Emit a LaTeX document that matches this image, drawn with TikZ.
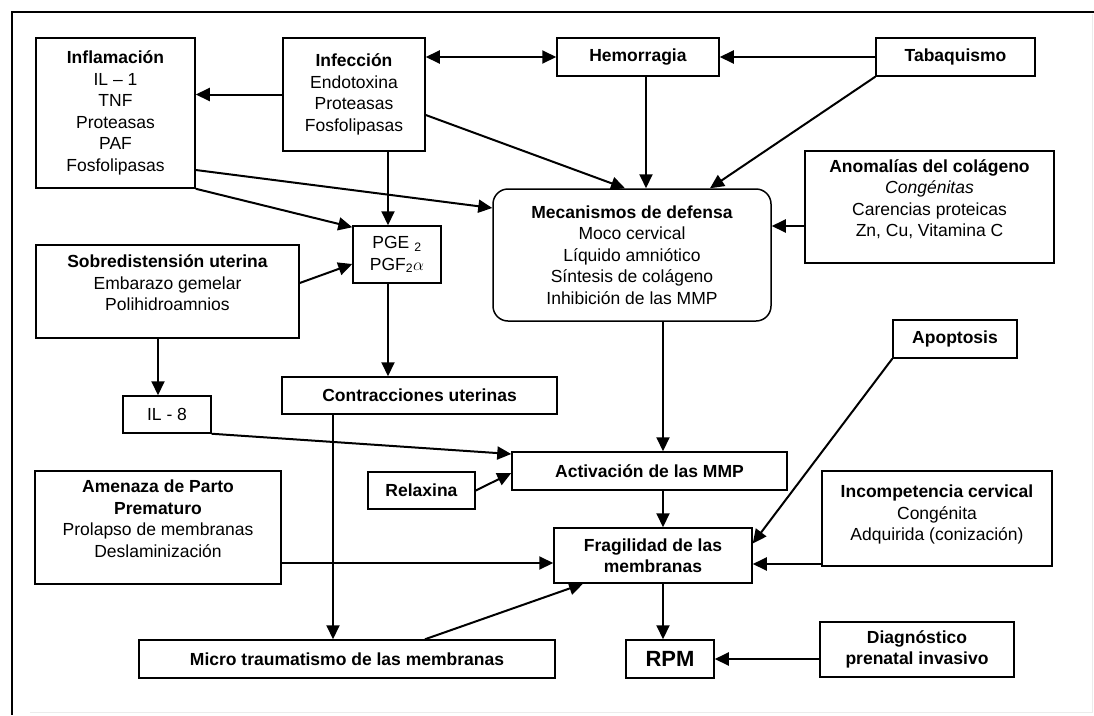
\documentclass[tikz,border=0pt]{standalone}
\usepackage{fontspec}
\setmainfont{Liberation Sans}
\usetikzlibrary{arrows.meta,calc}
\begin{document}
\begin{tikzpicture}[x=1pt,y=-1pt,
  box/.style={draw, line width=1.5pt, inner sep=0pt, align=center, font=\fontsize{17.5}{21.5}\selectfont},
  arr/.style={line width=2pt, -{Triangle[length=14pt,width=13pt]}},
  darr/.style={line width=2pt, {Triangle[length=14pt,width=13pt]}-{Triangle[length=14pt,width=13pt]}},
  frame/.style={line width=2.2pt}]
\useasboundingbox (0,0) rectangle (1094,715);
% frame
\draw[frame] (1094,12) -- (12,12) -- (12,715);
\draw[black!8, line width=1pt] (30,712) -- (1092,712) -- (1092,14);

% nodes
\node[box, minimum width=159pt, minimum height=150pt] (infl) at (115.5,113)
  {\textbf{Inflamación}\\IL -- 1\\TNF\\Proteasas\\PAF\\Fosfolipasas};
\node[box, minimum width=142pt, minimum height=113pt] (infe) at (354,94.5)
  {\textbf{Infección}\\Endotoxina\\Proteasas\\Fosfolipasas};
\node[box, minimum width=162pt, minimum height=38pt] (hem) at (638,57) {\textbf{Hemorragia}};
\node[box, minimum width=159pt, minimum height=38pt] (tab) at (955.5,57) {\textbf{Tabaquismo}};
\node[box, minimum width=88pt, minimum height=57pt] (pge) at (397,254.5)
  {PGE \textsubscript{2}\\PGF\textsubscript{2}$\alpha$};
\node[box, minimum width=263pt, minimum height=93pt] (sob) at (167.5,291.5)
  {\textbf{Sobredistensión uterina}\\Embarazo gemelar\\Polihidroamnios\\[-4pt]};
\node[box, rounded corners=15pt, minimum width=278pt, minimum height=132pt] (mec) at (632,255)
  {\textbf{Mecanismos de defensa}\\Moco cervical\\Líquido amniótico\\Síntesis de colágeno\\Inhibición de las MMP};
\node[box, minimum width=249pt, minimum height=112pt] (ano) at (929.5,207)
  {\textbf{Anomalías del colágeno}\\\textit{Congénitas}\\Carencias proteicas\\Zn, Cu, Vitamina C\\[-4pt]};
\node[box, minimum width=124pt, minimum height=38pt] (apo) at (955,339) {\textbf{Apoptosis}};
\node[box, minimum width=275pt, minimum height=37pt] (con) at (419.5,395.5) {\textbf{Contracciones uterinas}};
\node[box, minimum width=88pt, minimum height=37pt] (il8) at (167,414.5) {IL - 8};
\node[box, minimum width=246pt, minimum height=113pt] (ame) at (158,527.5)
  {\textbf{Amenaza de Parto}\\\textbf{Prematuro}\\Prolapso de membranas\\Deslaminización\\[-4pt]};
\node[box, minimum width=107pt, minimum height=37pt] (rel) at (421.5,490.5) {\textbf{Relaxina}};
\node[box, minimum width=275pt, minimum height=38pt] (act) at (649.5,471) {\textbf{Activación de las MMP}};
\node[box, minimum width=198pt, minimum height=55pt] (fra) at (653,555.5)
  {\textbf{Fragilidad de las}\\\textbf{membranas}};
\node[box, minimum width=230pt, minimum height=95pt] (inc) at (937,518.5)
  {\textbf{Incompetencia cervical}\\Congénita\\Adquirida (conización)\\[-10pt]};
\node[box, minimum width=88pt, minimum height=38pt, font=\fontsize{22}{24}\selectfont\bfseries] (rpm) at (670,659) {RPM};
\node[box, minimum width=194pt, minimum height=55pt] (dia) at (917,649.5)
  {\textbf{Diagnóstico}\\\textbf{prenatal invasivo}};
\node[box, minimum width=416pt, minimum height=38pt] (mic) at (347,659)
  {\textbf{Micro traumatismo de las membranas}};

% connectors
\draw[darr] (infe.east |- hem.west) -- (hem.west);
\draw[arr] (tab.west) -- (hem.east);
\draw[arr] (infe.west) -- (infl.east |- infe.west);
\draw[arr] ([xshift=34pt]infe.south) -- ([xshift=-9pt]pge.north);
\draw[arr] ([yshift=-20.5pt]infe.east) -- ([xshift=-7pt]mec.north);
\coordinate (h1) at ([xshift=8pt]hem.south);
\draw[arr] (h1) -- (h1 |- mec.north);
\draw[arr] (tab.south west) -- ([xshift=78pt]mec.north);
\coordinate (a1) at ([yshift=-19pt]ano.west);
\draw[arr] (a1) -- (a1 -| mec.east);
\draw[arr] ([yshift=-57pt]infl.east) -- ([yshift=47pt]mec.west);
\draw[arr] (infl.south east) -- ([yshift=-2pt]pge.north west);
\draw[arr] ([yshift=8.5pt]sob.east) -- ([yshift=-9.5pt]pge.west);
\coordinate (p1) at ([xshift=-9pt]pge.south);
\draw[arr] (p1) -- (p1 |- con.north);
\coordinate (s1) at ([xshift=-9.5pt]sob.south);
\draw[arr] (s1) -- (s1 |- il8.north);
\draw[arr] (il8.south east) -- ([yshift=17pt]act.west);
\draw[arr] (rel.east) -- ([yshift=-2pt]act.west);
\coordinate (m1) at ([xshift=31pt]mec.south);
\draw[arr] (m1) -- (m1 |- act.north);
\coordinate (c1) at ([xshift=-86.5pt]con.south);
\draw[arr] (c1) -- (c1 |- mic.north);
\coordinate (am1) at ([yshift=-35.5pt]ame.east);
\draw[arr] (am1) -- (am1 -| fra.west);
\draw[arr] ([xshift=78pt]mic.north) -- ([xshift=-70pt]fra.south);
\coordinate (ac1) at ([xshift=13.5pt]act.south);
\draw[arr] (ac1) -- (ac1 |- fra.north);
\draw[arr] (apo.south west) -- ([yshift=12pt]fra.east);
\coordinate (i1) at ([yshift=-45.5pt]inc.west);
\draw[arr] (i1) -- (i1 -| fra.east);
\coordinate (f1) at ([xshift=10pt]fra.south);
\draw[arr] (f1) -- (f1 |- rpm.north);
\draw[arr] (dia.west |- rpm.east) -- (rpm.east);
\end{tikzpicture}
\end{document}
